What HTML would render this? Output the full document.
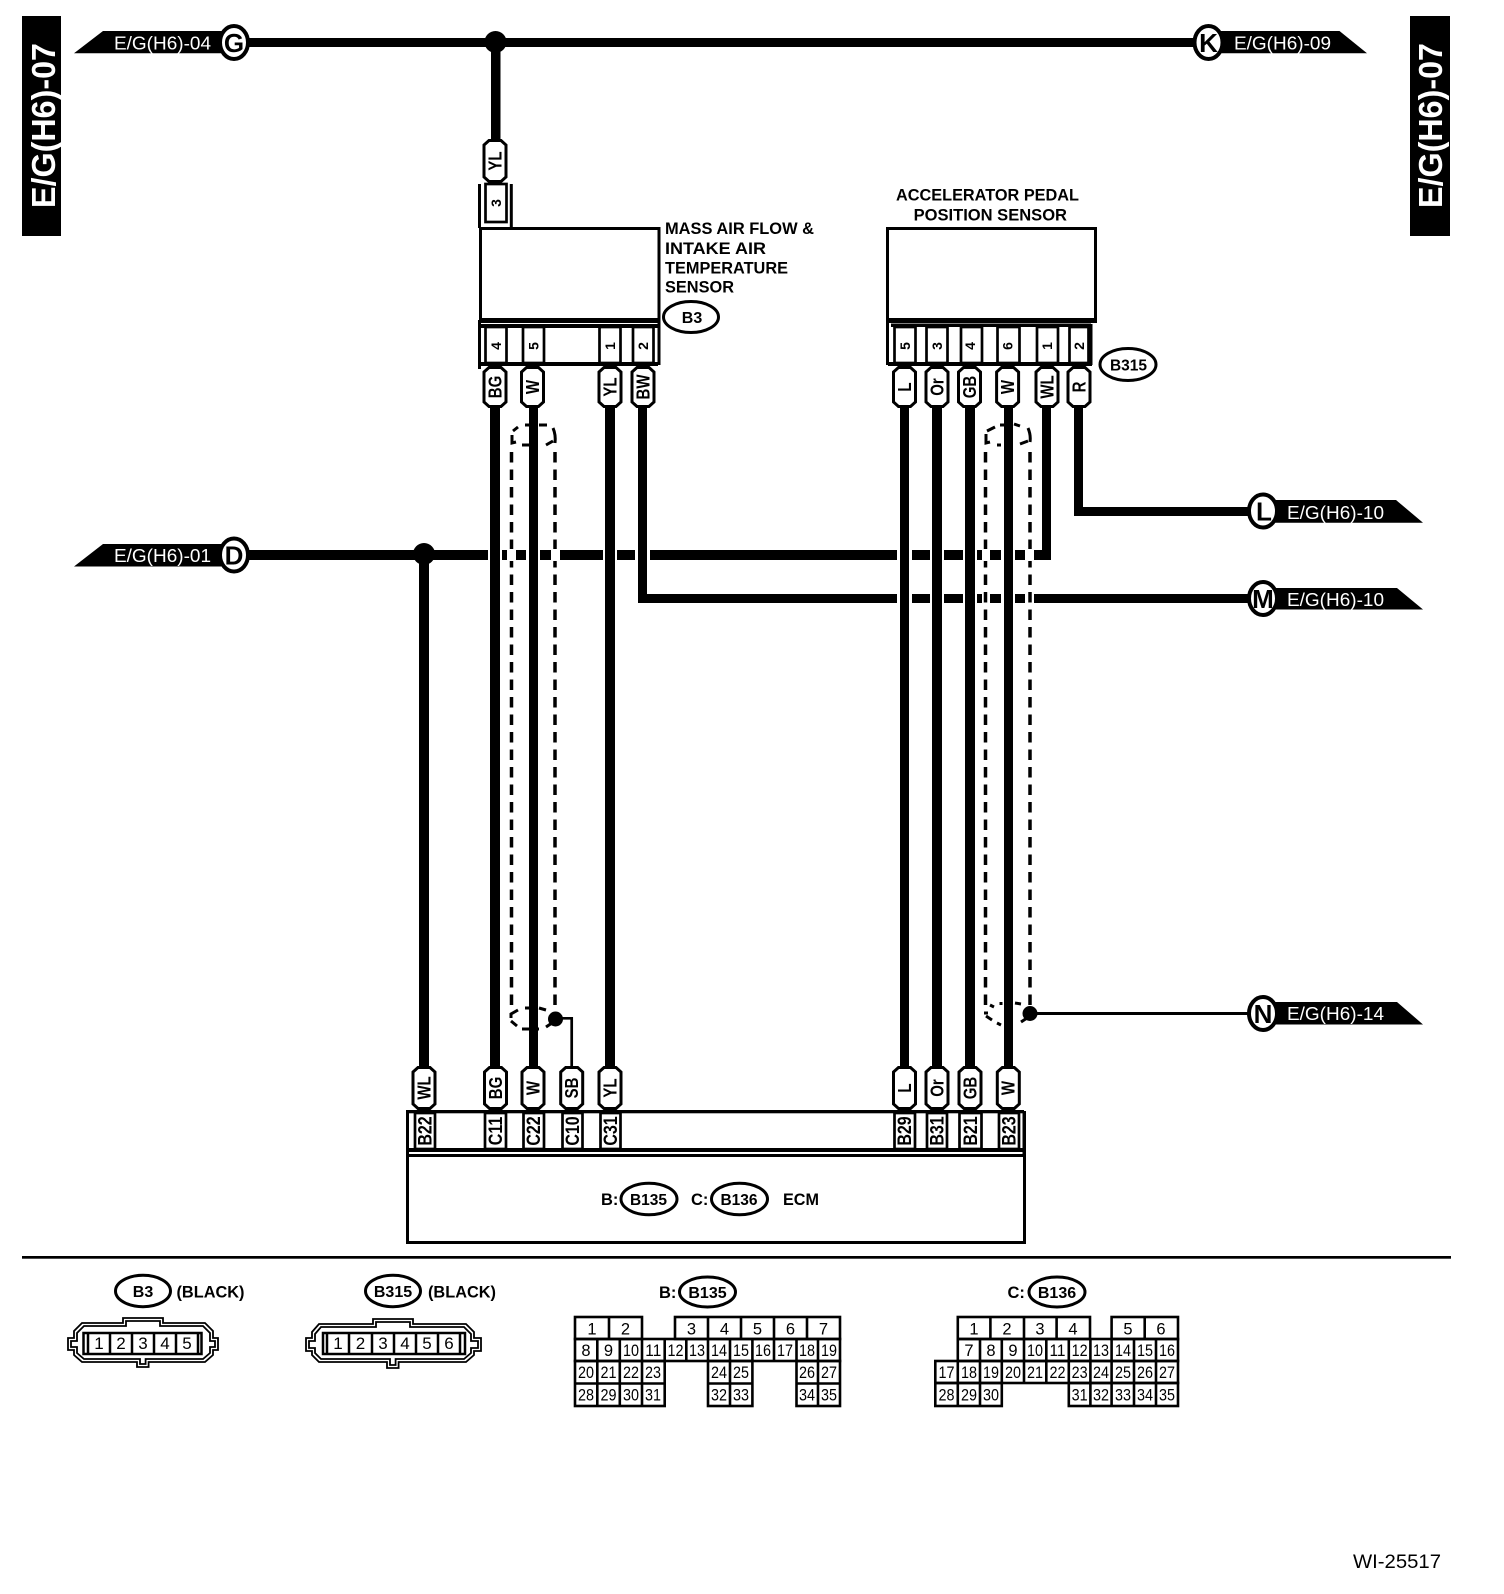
<!DOCTYPE html>
<html><head><meta charset="utf-8"><title>E/G(H6)-07 wiring diagram</title>
<style>
html,body{margin:0;padding:0;background:#fff}
svg{display:block}
text{font-family:"Liberation Sans",sans-serif;fill:#000}
.b{font-weight:bold}
.w{fill:#fff}
.m{text-anchor:middle}
.p{font-weight:bold;font-size:15px;text-anchor:middle}
.t{font-weight:bold;font-size:14px;text-anchor:middle}
.c{font-weight:bold;font-size:16px;text-anchor:middle}
.l{font-weight:bold;font-size:26px;text-anchor:middle}
.n{font-size:16.5px;text-anchor:middle}
.s{font-size:17px;text-anchor:middle}
.st{fill:none;stroke:#000}
.pill{fill:#fff;stroke:#000;stroke-width:3}
.term{fill:#fff;stroke:#000;stroke-width:2.7}
</style></head>
<body>
<svg xmlns="http://www.w3.org/2000/svg" width="1504" height="1594" viewBox="0 0 1504 1594">
<rect width="1504" height="1594" fill="#fff"/>
<defs>
<polygon id="p42" class="pill" points="-11,6 -6,1.5 6,1.5 11,6 11,36 6,40.5 -6,40.5 -11,36"/>
<polygon id="p44" class="pill" points="-11,6 -6,1.5 6,1.5 11,6 11,38 6,42.5 -6,42.5 -11,38"/>
</defs>

<!-- side bars -->
<rect x="22" y="16" width="39" height="220"/>
<rect x="1410" y="16" width="40" height="220"/>
<text class="b w" font-size="32" textLength="165" lengthAdjust="spacingAndGlyphs" transform="translate(55,208) rotate(-90) scale(1,1.05)">E/G(H6)-07</text>
<text class="b w" font-size="32" textLength="165" lengthAdjust="spacingAndGlyphs" transform="translate(1442,208) rotate(-90) scale(1,1.05)">E/G(H6)-07</text>

<!-- wires -->
<rect x="240" y="38" width="980" height="9"/>
<ellipse cx="495.5" cy="42" rx="11" ry="11"/>
<rect x="491" y="42" width="9.5" height="98"/>
<rect x="490" y="405" width="10" height="663"/>
<rect x="529" y="405" width="9" height="663"/>
<rect x="605" y="405" width="10" height="663"/>
<rect x="638" y="405" width="9" height="198"/>
<rect x="900" y="405" width="9" height="663"/>
<rect x="932" y="405" width="10" height="663"/>
<rect x="965" y="405" width="10" height="663"/>
<rect x="1004" y="405" width="9" height="663"/>
<rect x="1042" y="405" width="9" height="155"/>
<rect x="1074" y="405" width="9" height="111"/>
<rect x="1074" y="507" width="180" height="9"/>

<!-- D wire -->
<rect x="240" y="550" width="248" height="10"/>
<rect x="502" y="550" width="5" height="10"/>
<rect x="516" y="550" width="10" height="10"/>
<rect x="540" y="550" width="11" height="10"/>
<rect x="560" y="550" width="43" height="10"/>
<rect x="617" y="550" width="18" height="10"/>
<rect x="650" y="550" width="247" height="10"/>
<rect x="912" y="550" width="18" height="10"/>
<rect x="944" y="550" width="19" height="10"/>
<rect x="977" y="550" width="5" height="10"/>
<rect x="990" y="550" width="11" height="10"/>
<rect x="1015" y="550" width="10" height="10"/>
<rect x="1034" y="550" width="17" height="10"/>
<ellipse cx="424" cy="554" rx="11" ry="11"/>
<rect x="419" y="554" width="10" height="514"/>

<!-- M wire -->
<rect x="638" y="594" width="259" height="9"/>
<rect x="912" y="594" width="18" height="9"/>
<rect x="944" y="594" width="19" height="9"/>
<rect x="977" y="594" width="5" height="9"/>
<rect x="990" y="594" width="11" height="9"/>
<rect x="1015" y="594" width="10" height="9"/>
<rect x="1034" y="594" width="220" height="9"/>

<!-- shields -->
<g fill="none" stroke="#000" stroke-width="3.5" stroke-dasharray="10.5 7">
<path d="M511.5 452V1005"/><path d="M555 452V1005"/><path d="M985.5 452V1005"/><path d="M1030 452V1005"/>
</g>
<rect x="507" y="549" width="9" height="12" fill="#fff"/>
<rect x="551" y="549" width="9" height="12" fill="#fff"/>
<rect x="982" y="549" width="8" height="12" fill="#fff"/>
<rect x="1025" y="549" width="9" height="12" fill="#fff"/>
<g fill="none" stroke="#000" stroke-width="3">
<path d="M513 431L518 427M512 435V443L516 442M525 425H530M539 425H547M553 428Q556 435 555 443M546 445L553 441M522 445H529"/>
<path d="M987 431L995 427M1000 425H1004M1014 424L1020 426M1028 428Q1031 435 1030 442M1020 444L1028 441M986 434V443L990 442M997 445H1001"/>
<path d="M511 1018V1014L518 1010M511 1021L517 1026M525 1008H529M539 1008L546 1010M522 1029H539"/>
<path d="M990 1005L994 1007M1001 1002V1005M1015 1003L1021 1004M984 1013H988M986 1016L992 1020M997 1023L1001 1025"/>
</g>
<ellipse cx="555.5" cy="1019" rx="7.5" ry="7.5"/>
<path d="M546 1027L552 1023" stroke="#000" stroke-width="3"/>
<path d="M555 1018.3H571.7V1068" fill="none" stroke="#000" stroke-width="2.7"/>
<ellipse cx="1030" cy="1013.5" rx="7.5" ry="7.5"/>
<path d="M1021 1022L1027 1018" stroke="#000" stroke-width="3"/>
<rect x="1030" y="1012" width="224" height="3"/>

<!-- tags -->
<polygon points="74,53.3 103,31 225,31 225,53.3"/>
<polygon points="74,566.5 103,544 225,544 225,566.5"/>
<polygon points="1205,31 1339.5,31 1367,53.3 1205,53.3"/>
<polygon points="1265,500 1396,500 1423,522.7 1265,522.7"/>
<polygon points="1265,588 1397,588 1423,609.5 1265,609.5"/>
<polygon points="1265,1002 1397,1002 1423,1024.5 1265,1024.5"/>
<g fill="#fff" stroke="#000" stroke-width="4">
<ellipse cx="234" cy="42.5" rx="14" ry="16.5"/>
<ellipse cx="234" cy="555" rx="14" ry="16.5"/>
<ellipse cx="1208.5" cy="42.5" rx="14" ry="16.5"/>
<ellipse cx="1263" cy="511" rx="14" ry="16.5"/>
<ellipse cx="1263" cy="598.5" rx="14" ry="16.5"/>
<ellipse cx="1263" cy="1013.5" rx="14" ry="16.5"/>
</g>
<text class="l" x="234" y="52">G</text>
<text class="l" x="234" y="564.5">D</text>
<text class="l" x="1208.5" y="52">K</text>
<text class="l" x="1264" y="520.5">L</text>
<text class="l" x="1263" y="608">M</text>
<text class="l" x="1263" y="1023">N</text>
<g class="w" font-size="18">
<text class="w" x="114" y="49.5" textLength="97" lengthAdjust="spacingAndGlyphs">E/G(H6)-04</text>
<text class="w" x="114" y="562" textLength="97" lengthAdjust="spacingAndGlyphs">E/G(H6)-01</text>
<text class="w" x="1234" y="49.5" textLength="97" lengthAdjust="spacingAndGlyphs">E/G(H6)-09</text>
<text class="w" x="1287" y="519" textLength="97" lengthAdjust="spacingAndGlyphs">E/G(H6)-10</text>
<text class="w" x="1287" y="606" textLength="97" lengthAdjust="spacingAndGlyphs">E/G(H6)-10</text>
<text class="w" x="1287" y="1020" textLength="97" lengthAdjust="spacingAndGlyphs">E/G(H6)-14</text>
</g>

<!-- MAF sensor -->
<rect x="480.5" y="228.5" width="178.5" height="91" fill="#fff" stroke="#000" stroke-width="3"/>
<rect x="479" y="318" width="181" height="5"/>
<path d="M479.5 184V228M511.3 184V228" class="st" stroke-width="3"/>
<rect x="485.5" y="184" width="21" height="38" class="term"/>
<text class="t" transform="translate(496,203) rotate(-90)" y="5">3</text>
<use href="#p44" x="495" y="139"/>
<text class="p" transform="translate(495,161) rotate(-90) scale(1,1.25)" y="5">YL</text>
<path d="M479.5 320V369M659 320V365" class="st" stroke-width="3"/>
<rect x="481" y="324" width="177" height="4"/>
<rect x="481" y="362" width="177" height="4"/>
<rect x="485.5" y="327" width="21" height="36" class="term"/>
<rect x="523" y="327" width="21" height="36" class="term"/>
<rect x="599.5" y="327" width="21" height="36" class="term"/>
<rect x="633" y="327" width="20.5" height="36" class="term"/>
<text class="t" transform="translate(496,346) rotate(-90)" y="5">4</text>
<text class="t" transform="translate(533.5,346) rotate(-90)" y="5">5</text>
<text class="t" transform="translate(610,346) rotate(-90)" y="5">1</text>
<text class="t" transform="translate(643,346) rotate(-90)" y="5">2</text>
<use href="#p42" x="495" y="366"/><use href="#p42" x="532.5" y="366"/><use href="#p42" x="610" y="366"/><use href="#p42" x="643" y="366"/>
<text class="p" transform="translate(495,387) rotate(-90) scale(1,1.25)" y="5">BG</text>
<text class="p" transform="translate(532.5,387) rotate(-90) scale(1,1.25)" y="5">W</text>
<text class="p" transform="translate(610,387) rotate(-90) scale(1,1.25)" y="5">YL</text>
<text class="p" transform="translate(643,387) rotate(-90) scale(1,1.25)" y="5">BW</text>
<text class="b" x="665" y="234" textLength="149" lengthAdjust="spacingAndGlyphs" font-size="17">MASS AIR FLOW &amp;</text>
<text class="b" x="665" y="254" textLength="101" lengthAdjust="spacingAndGlyphs" font-size="17">INTAKE AIR</text>
<text class="b" x="665" y="273.5" textLength="123" lengthAdjust="spacingAndGlyphs" font-size="17">TEMPERATURE</text>
<text class="b" x="665" y="292.5" textLength="69" lengthAdjust="spacingAndGlyphs" font-size="17">SENSOR</text>
<ellipse cx="691" cy="317" rx="27.5" ry="15.5" fill="#fff" stroke="#000" stroke-width="3"/>
<text class="c" x="692" y="323">B3</text>

<!-- APP sensor -->
<text class="b" x="896" y="200.5" textLength="183" lengthAdjust="spacingAndGlyphs" font-size="17">ACCELERATOR PEDAL</text>
<text class="b" x="913.6" y="220.5" textLength="153.4" lengthAdjust="spacingAndGlyphs" font-size="17">POSITION SENSOR</text>
<rect x="887.5" y="228.5" width="208" height="91" fill="#fff" stroke="#000" stroke-width="3"/>
<rect x="886" y="318" width="211" height="5"/>
<path d="M887.5 320V365M1091 324V365" class="st" stroke-width="3"/>
<rect x="891" y="323.5" width="200" height="3.5"/>
<rect x="888" y="362" width="204" height="4"/>
<rect x="894.5" y="327" width="21" height="36" class="term"/>
<rect x="926.5" y="327" width="21" height="36" class="term"/>
<rect x="961" y="327" width="21" height="36" class="term"/>
<rect x="997.5" y="327" width="22" height="36" class="term"/>
<rect x="1037" y="327" width="21" height="36" class="term"/>
<rect x="1069.5" y="327" width="19" height="36" class="term"/>
<text class="t" transform="translate(905,346) rotate(-90)" y="5">5</text>
<text class="t" transform="translate(937,346) rotate(-90)" y="5">3</text>
<text class="t" transform="translate(970,346) rotate(-90)" y="5">4</text>
<text class="t" transform="translate(1007.5,346) rotate(-90)" y="5">6</text>
<text class="t" transform="translate(1047,346) rotate(-90)" y="5">1</text>
<text class="t" transform="translate(1079,346) rotate(-90)" y="5">2</text>
<use href="#p42" x="904.5" y="366"/><use href="#p42" x="937" y="366"/><use href="#p42" x="969.5" y="366"/><use href="#p42" x="1007.6" y="366"/><use href="#p42" x="1047" y="366"/><use href="#p42" x="1079" y="366"/>
<text class="p" transform="translate(904.5,387) rotate(-90) scale(1,1.25)" y="5">L</text>
<text class="p" transform="translate(937,387) rotate(-90) scale(1,1.25)" y="5">Or</text>
<text class="p" transform="translate(969.5,387) rotate(-90) scale(1,1.25)" y="5">GB</text>
<text class="p" transform="translate(1007.6,387) rotate(-90) scale(1,1.25)" y="5">W</text>
<text class="p" transform="translate(1047,387) rotate(-90) scale(1,1.25)" y="5">WL</text>
<text class="p" transform="translate(1079,387) rotate(-90) scale(1,1.25)" y="5">R</text>
<ellipse cx="1128" cy="364.5" rx="28" ry="16" fill="#fff" stroke="#000" stroke-width="3"/>
<text class="c" x="1128.5" y="370.5" style="font-size:15.5px">B315</text>

<!-- ECM -->
<rect x="407.5" y="1155.5" width="617" height="87" fill="#fff" stroke="#000" stroke-width="3"/>
<rect x="406" y="1110" width="3" height="45"/>
<rect x="1022.5" y="1111" width="3.5" height="44"/>
<rect x="408" y="1110" width="616" height="3.3"/>
<rect x="408" y="1148" width="616" height="4"/>
<g>
<rect x="415" y="1113" width="20" height="36" class="term"/>
<rect x="485" y="1113" width="21" height="36" class="term"/>
<rect x="523.5" y="1113" width="20.5" height="36" class="term"/>
<rect x="562.5" y="1113" width="20" height="36" class="term"/>
<rect x="600.5" y="1113" width="20" height="36" class="term"/>
<rect x="894.5" y="1113" width="20.5" height="36" class="term"/>
<rect x="927" y="1113" width="20" height="36" class="term"/>
<rect x="959.5" y="1113" width="22" height="36" class="term"/>
<rect x="999" y="1113" width="20" height="36" class="term"/>
</g>
<g>
<text class="c" transform="translate(425,1131) rotate(-90) scale(1,1.2)" y="5.6">B22</text>
<text class="c" transform="translate(495.5,1131) rotate(-90) scale(1,1.2)" y="5.6">C11</text>
<text class="c" transform="translate(533.5,1131) rotate(-90) scale(1,1.2)" y="5.6">C22</text>
<text class="c" transform="translate(572.5,1131) rotate(-90) scale(1,1.2)" y="5.6">C10</text>
<text class="c" transform="translate(610.5,1131) rotate(-90) scale(1,1.2)" y="5.6">C31</text>
<text class="c" transform="translate(904.5,1131) rotate(-90) scale(1,1.2)" y="5.6">B29</text>
<text class="c" transform="translate(937,1131) rotate(-90) scale(1,1.2)" y="5.6">B31</text>
<text class="c" transform="translate(970.5,1131) rotate(-90) scale(1,1.2)" y="5.6">B21</text>
<text class="c" transform="translate(1009,1131) rotate(-90) scale(1,1.2)" y="5.6">B23</text>
</g>
<use href="#p44" x="424" y="1066"/><use href="#p44" x="495.5" y="1066"/><use href="#p44" x="533" y="1066"/><use href="#p44" x="571.7" y="1066"/><use href="#p44" x="610" y="1066"/><use href="#p44" x="904.5" y="1066"/><use href="#p44" x="937" y="1066"/><use href="#p44" x="970" y="1066"/><use href="#p44" x="1008.3" y="1066"/>
<text class="p" transform="translate(424,1088) rotate(-90) scale(1,1.25)" y="5">WL</text>
<text class="p" transform="translate(495.5,1088) rotate(-90) scale(1,1.25)" y="5">BG</text>
<text class="p" transform="translate(533,1088) rotate(-90) scale(1,1.25)" y="5">W</text>
<text class="p" transform="translate(571.7,1088) rotate(-90) scale(1,1.25)" y="5">SB</text>
<text class="p" transform="translate(610,1088) rotate(-90) scale(1,1.25)" y="5">YL</text>
<text class="p" transform="translate(904.5,1088) rotate(-90) scale(1,1.25)" y="5">L</text>
<text class="p" transform="translate(937,1088) rotate(-90) scale(1,1.25)" y="5">Or</text>
<text class="p" transform="translate(970,1088) rotate(-90) scale(1,1.25)" y="5">GB</text>
<text class="p" transform="translate(1008.3,1088) rotate(-90) scale(1,1.25)" y="5">W</text>
<text class="b" x="601" y="1205" font-size="16.5">B:</text>
<ellipse cx="649" cy="1199" rx="28" ry="15.8" fill="#fff" stroke="#000" stroke-width="3"/>
<text class="c" x="648.5" y="1205" style="font-size:15.5px">B135</text>
<text class="b" x="691" y="1205" font-size="16.5">C:</text>
<ellipse cx="739.5" cy="1199" rx="28" ry="15.8" fill="#fff" stroke="#000" stroke-width="3"/>
<text class="c" x="739" y="1205" style="font-size:15.5px">B136</text>
<text class="b" x="783" y="1205" font-size="16.5" textLength="36" lengthAdjust="spacingAndGlyphs">ECM</text>

<!-- separator -->
<rect x="22" y="1256" width="1429" height="2.7"/>

<!-- B3 legend -->
<ellipse cx="143" cy="1291" rx="27.5" ry="15.7" fill="#fff" stroke="#000" stroke-width="3"/>
<text class="c" x="143" y="1297">B3</text>
<text class="b" x="176.5" y="1297.5" font-size="17" textLength="68" lengthAdjust="spacingAndGlyphs">(BLACK)</text>
<ellipse cx="393" cy="1291" rx="27.5" ry="15.7" fill="#fff" stroke="#000" stroke-width="3"/>
<text class="c" x="393" y="1297">B315</text>
<text class="b" x="428" y="1297.5" font-size="17" textLength="68" lengthAdjust="spacingAndGlyphs">(BLACK)</text>

<g class="st" stroke-width="1.8">
<path d="M82 1323H123V1318H163V1323H205L213 1331V1338H218V1350H213V1355L205 1362H148.6V1367H137V1362H82L74 1355V1350H68V1338H74V1331Z"/>
<path d="M84 1326H126V1321H160V1326H203L210 1333V1341H215V1347H210V1353L203 1359H145.6V1364H140V1359H84L77 1353V1347H71V1341H77V1333Z"/>
<path d="M319 1324H373V1319H413V1324H466L474 1332V1338H481V1351H474V1355L466 1362H398.6V1368H387V1362H319L312 1355V1351H306V1338H312V1332Z"/>
<path d="M321 1327H376V1322H410V1327H464L471 1334V1341H478V1348H471V1353L464 1359H395.6V1365H390V1359H321L315 1353V1348H309V1341H315V1334Z"/>
</g>
<g class="st" stroke-width="2.5">
<rect x="83.5" y="1333" width="118" height="21"/>
<path d="M88 1333V1354M110 1333V1354M132 1333V1354M154 1333V1354M176 1333V1354M198 1333V1354"/>
<rect x="323" y="1333" width="142" height="21"/>
<path d="M327 1333V1354M349 1333V1354M372 1333V1354M394 1333V1354M416 1333V1354M438 1333V1354M460 1333V1354"/>
</g>
<text class="s" x="99" y="1349">1</text><text class="s" x="121" y="1349">2</text><text class="s" x="143" y="1349">3</text><text class="s" x="165" y="1349">4</text><text class="s" x="187" y="1349">5</text>
<text class="s" x="338" y="1349">1</text><text class="s" x="360.5" y="1349">2</text><text class="s" x="383" y="1349">3</text><text class="s" x="405" y="1349">4</text><text class="s" x="427" y="1349">5</text><text class="s" x="449" y="1349">6</text>

<!-- B135 grid -->
<text class="b" x="659" y="1298" font-size="16.5">B:</text>
<ellipse cx="707.5" cy="1292" rx="28" ry="15" fill="#fff" stroke="#000" stroke-width="3"/>
<text class="c" x="707.5" y="1298">B135</text>
<g class="st" stroke-width="2.6">
<rect x="575" y="1317" width="67" height="22"/>
<rect x="675" y="1317" width="165" height="22"/>
<rect x="575" y="1339" width="265" height="22"/>
<rect x="575" y="1361" width="89.7" height="45"/>
<rect x="708" y="1361" width="44.4" height="45"/>
<rect x="796.5" y="1361" width="43.5" height="45"/>
<path d="M609 1317V1339M708 1317V1339M741 1317V1339M774 1317V1339M807 1317V1339"/>
<path d="M597.3 1339V1406M619.8 1339V1406M642 1339V1406M664.7 1339V1361M686.3 1339V1361M708 1339V1361M730 1339V1406M752.4 1339V1361M774 1339V1361M796.5 1339V1361M818 1339V1406"/>
<path d="M575 1383.5H664.7M708 1383.5H752.4M796.5 1383.5H840"/>
</g>
<g>
<text class="n" x="592" y="1334.5">1</text><text class="n" x="625.5" y="1334.5">2</text><text class="n" x="691.5" y="1334.5">3</text><text class="n" x="724.5" y="1334.5">4</text><text class="n" x="757.5" y="1334.5">5</text><text class="n" x="790.5" y="1334.5">6</text><text class="n" x="823.5" y="1334.5">7</text>
<text class="n" x="586" y="1356">8</text><text class="n" x="608.5" y="1356">9</text>
<text class="n" x="631" y="1356" textLength="16" lengthAdjust="spacingAndGlyphs">10</text><text class="n" x="653.3" y="1356" textLength="16" lengthAdjust="spacingAndGlyphs">11</text><text class="n" x="675.5" y="1356" textLength="16" lengthAdjust="spacingAndGlyphs">12</text><text class="n" x="697" y="1356" textLength="16" lengthAdjust="spacingAndGlyphs">13</text><text class="n" x="719" y="1356" textLength="16" lengthAdjust="spacingAndGlyphs">14</text><text class="n" x="741" y="1356" textLength="16" lengthAdjust="spacingAndGlyphs">15</text><text class="n" x="763" y="1356" textLength="16" lengthAdjust="spacingAndGlyphs">16</text><text class="n" x="785" y="1356" textLength="16" lengthAdjust="spacingAndGlyphs">17</text><text class="n" x="807" y="1356" textLength="16" lengthAdjust="spacingAndGlyphs">18</text><text class="n" x="829" y="1356" textLength="16" lengthAdjust="spacingAndGlyphs">19</text>
<text class="n" x="586" y="1378" textLength="16" lengthAdjust="spacingAndGlyphs">20</text><text class="n" x="608.5" y="1378" textLength="16" lengthAdjust="spacingAndGlyphs">21</text><text class="n" x="631" y="1378" textLength="16" lengthAdjust="spacingAndGlyphs">22</text><text class="n" x="653" y="1378" textLength="16" lengthAdjust="spacingAndGlyphs">23</text><text class="n" x="719" y="1378" textLength="16" lengthAdjust="spacingAndGlyphs">24</text><text class="n" x="741" y="1378" textLength="16" lengthAdjust="spacingAndGlyphs">25</text><text class="n" x="807" y="1378" textLength="16" lengthAdjust="spacingAndGlyphs">26</text><text class="n" x="829" y="1378" textLength="16" lengthAdjust="spacingAndGlyphs">27</text>
<text class="n" x="586" y="1400.5" textLength="16" lengthAdjust="spacingAndGlyphs">28</text><text class="n" x="608.5" y="1400.5" textLength="16" lengthAdjust="spacingAndGlyphs">29</text><text class="n" x="631" y="1400.5" textLength="16" lengthAdjust="spacingAndGlyphs">30</text><text class="n" x="653" y="1400.5" textLength="16" lengthAdjust="spacingAndGlyphs">31</text><text class="n" x="719" y="1400.5" textLength="16" lengthAdjust="spacingAndGlyphs">32</text><text class="n" x="741" y="1400.5" textLength="16" lengthAdjust="spacingAndGlyphs">33</text><text class="n" x="807" y="1400.5" textLength="16" lengthAdjust="spacingAndGlyphs">34</text><text class="n" x="829" y="1400.5" textLength="16" lengthAdjust="spacingAndGlyphs">35</text>
</g>

<!-- B136 grid -->
<text class="b" x="1007.5" y="1298" font-size="16.5">C:</text>
<ellipse cx="1057" cy="1292" rx="28" ry="15" fill="#fff" stroke="#000" stroke-width="3"/>
<text class="c" x="1057" y="1298">B136</text>
<g class="st" stroke-width="2.6">
<rect x="957.8" y="1317" width="132.2" height="22"/>
<rect x="1111.6" y="1317" width="66.4" height="22"/>
<rect x="957.8" y="1339" width="220.2" height="22"/>
<rect x="935.3" y="1361" width="242.7" height="22"/>
<rect x="935.3" y="1383" width="66.5" height="23"/>
<rect x="1068.8" y="1383" width="109.2" height="23"/>
<path d="M990.4 1317V1339M1024 1317V1339M1056.6 1317V1339M1144.7 1317V1339"/>
<path d="M957.8 1361V1406M980 1339V1406M1001.8 1339V1383M1024 1339V1383M1046.3 1339V1383M1068.8 1339V1383M1090.4 1339V1406M1111.6 1339V1406M1134 1339V1406M1156 1339V1406"/>
</g>
<g>
<text class="n" x="974" y="1334.5">1</text><text class="n" x="1007" y="1334.5">2</text><text class="n" x="1040" y="1334.5">3</text><text class="n" x="1073" y="1334.5">4</text><text class="n" x="1128" y="1334.5">5</text><text class="n" x="1161" y="1334.5">6</text>
<text class="n" x="969" y="1356">7</text><text class="n" x="991" y="1356">8</text><text class="n" x="1013" y="1356">9</text>
<text class="n" x="1035" y="1356" textLength="16" lengthAdjust="spacingAndGlyphs">10</text><text class="n" x="1057.5" y="1356" textLength="16" lengthAdjust="spacingAndGlyphs">11</text><text class="n" x="1079.6" y="1356" textLength="16" lengthAdjust="spacingAndGlyphs">12</text><text class="n" x="1101" y="1356" textLength="16" lengthAdjust="spacingAndGlyphs">13</text><text class="n" x="1123" y="1356" textLength="16" lengthAdjust="spacingAndGlyphs">14</text><text class="n" x="1145" y="1356" textLength="16" lengthAdjust="spacingAndGlyphs">15</text><text class="n" x="1167" y="1356" textLength="16" lengthAdjust="spacingAndGlyphs">16</text>
<text class="n" x="946.5" y="1378" textLength="16" lengthAdjust="spacingAndGlyphs">17</text><text class="n" x="969" y="1378" textLength="16" lengthAdjust="spacingAndGlyphs">18</text><text class="n" x="991" y="1378" textLength="16" lengthAdjust="spacingAndGlyphs">19</text><text class="n" x="1013" y="1378" textLength="16" lengthAdjust="spacingAndGlyphs">20</text><text class="n" x="1035" y="1378" textLength="16" lengthAdjust="spacingAndGlyphs">21</text><text class="n" x="1057.5" y="1378" textLength="16" lengthAdjust="spacingAndGlyphs">22</text><text class="n" x="1079.6" y="1378" textLength="16" lengthAdjust="spacingAndGlyphs">23</text><text class="n" x="1101" y="1378" textLength="16" lengthAdjust="spacingAndGlyphs">24</text><text class="n" x="1123" y="1378" textLength="16" lengthAdjust="spacingAndGlyphs">25</text><text class="n" x="1145" y="1378" textLength="16" lengthAdjust="spacingAndGlyphs">26</text><text class="n" x="1167" y="1378" textLength="16" lengthAdjust="spacingAndGlyphs">27</text>
<text class="n" x="946.5" y="1400.5" textLength="16" lengthAdjust="spacingAndGlyphs">28</text><text class="n" x="969" y="1400.5" textLength="16" lengthAdjust="spacingAndGlyphs">29</text><text class="n" x="991" y="1400.5" textLength="16" lengthAdjust="spacingAndGlyphs">30</text><text class="n" x="1079.6" y="1400.5" textLength="16" lengthAdjust="spacingAndGlyphs">31</text><text class="n" x="1101" y="1400.5" textLength="16" lengthAdjust="spacingAndGlyphs">32</text><text class="n" x="1123" y="1400.5" textLength="16" lengthAdjust="spacingAndGlyphs">33</text><text class="n" x="1145" y="1400.5" textLength="16" lengthAdjust="spacingAndGlyphs">34</text><text class="n" x="1167" y="1400.5" textLength="16" lengthAdjust="spacingAndGlyphs">35</text>
</g>

<text x="1353" y="1568" font-size="19.5" textLength="88" lengthAdjust="spacingAndGlyphs">WI-25517</text>
</svg>
</body></html>
